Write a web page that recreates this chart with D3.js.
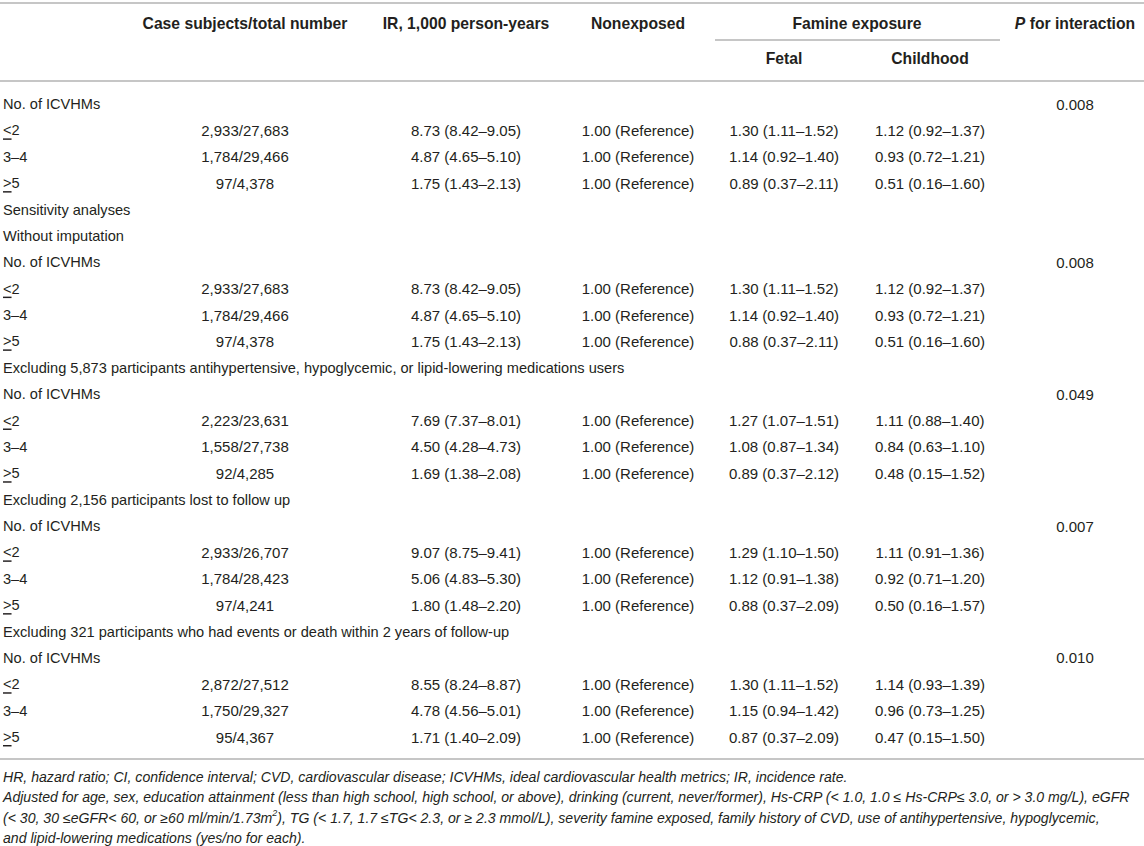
<!DOCTYPE html>
<html>
<head>
<meta charset="utf-8">
<script src="https://cdn.jsdelivr.net/npm/d3@7"></script>
<style>
  body { margin: 0; background: #fff; }
  svg text { font-family: "Liberation Sans", Arial, Helvetica, sans-serif; fill: #231f20; }
</style>
</head>
<body>
<svg id="table" width="1144" height="846"></svg>
<script>
// table data, row by row
const rowLabels = [
  "No. of ICVHMs", "≤2", "3–4", "≥5",
  "Sensitivity analyses", "Without imputation",
  "No. of ICVHMs", "≤2", "3–4", "≥5",
  "Excluding 5,873 participants antihypertensive, hypoglycemic, or lipid-lowering medications users",
  "No. of ICVHMs", "≤2", "3–4", "≥5",
  "Excluding 2,156 participants lost to follow up",
  "No. of ICVHMs", "≤2", "3–4", "≥5",
  "Excluding 321 participants who had events or death within 2 years of follow-up",
  "No. of ICVHMs", "≤2", "3–4", "≥5"
];
const caseTotals = [
  "", "2,933/27,683", "1,784/29,466", "97/4,378",
  "", "",
  "", "2,933/27,683", "1,784/29,466", "97/4,378",
  "",
  "", "2,223/23,631", "1,558/27,738", "92/4,285",
  "",
  "", "2,933/26,707", "1,784/28,423", "97/4,241",
  "",
  "", "2,872/27,512", "1,750/29,327", "95/4,367"
];
const irRates = [
  "", "8.73 (8.42–9.05)", "4.87 (4.65–5.10)", "1.75 (1.43–2.13)",
  "", "",
  "", "8.73 (8.42–9.05)", "4.87 (4.65–5.10)", "1.75 (1.43–2.13)",
  "",
  "", "7.69 (7.37–8.01)", "4.50 (4.28–4.73)", "1.69 (1.38–2.08)",
  "",
  "", "9.07 (8.75–9.41)", "5.06 (4.83–5.30)", "1.80 (1.48–2.20)",
  "",
  "", "8.55 (8.24–8.87)", "4.78 (4.56–5.01)", "1.71 (1.40–2.09)"
];
const nonexposed = rowLabels.map((d, i) => caseTotals[i] ? "1.00 (Reference)" : "");
const fetalHR = [
  "", "1.30 (1.11–1.52)", "1.14 (0.92–1.40)", "0.89 (0.37–2.11)",
  "", "",
  "", "1.30 (1.11–1.52)", "1.14 (0.92–1.40)", "0.88 (0.37–2.11)",
  "",
  "", "1.27 (1.07–1.51)", "1.08 (0.87–1.34)", "0.89 (0.37–2.12)",
  "",
  "", "1.29 (1.10–1.50)", "1.12 (0.91–1.38)", "0.88 (0.37–2.09)",
  "",
  "", "1.30 (1.11–1.52)", "1.15 (0.94–1.42)", "0.87 (0.37–2.09)"
];
const childhoodHR = [
  "", "1.12 (0.92–1.37)", "0.93 (0.72–1.21)", "0.51 (0.16–1.60)",
  "", "",
  "", "1.12 (0.92–1.37)", "0.93 (0.72–1.21)", "0.51 (0.16–1.60)",
  "",
  "", "1.11 (0.88–1.40)", "0.84 (0.63–1.10)", "0.48 (0.15–1.52)",
  "",
  "", "1.11 (0.91–1.36)", "0.92 (0.71–1.20)", "0.50 (0.16–1.57)",
  "",
  "", "1.14 (0.93–1.39)", "0.96 (0.73–1.25)", "0.47 (0.15–1.50)"
];
const pInteraction = [
  "0.008", "", "", "", "", "",
  "0.008", "", "", "", "",
  "0.049", "", "", "", "",
  "0.007", "", "", "", "",
  "0.010", "", "", ""
];

const columns = ["case", "ir", "nonexposed", "fetal", "childhood", "p"];
const columnTitles = ["Case subjects/total number", "IR, 1,000 person-years", "Nonexposed", "Fetal", "Childhood", "for interaction"];
const footnotes = [
  "HR, hazard ratio; CI, confidence interval; CVD, cardiovascular disease; ICVHMs, ideal cardiovascular health metrics; IR, incidence rate.",
  "Adjusted for age, sex, education attainment (less than high school, high school, or above), drinking (current, never/former), Hs-CRP (< 1.0, 1.0 ≤ Hs-CRP≤ 3.0, or > 3.0 mg/L), eGFR",
  "(< 30, 30 ≤eGFR< 60, or ≥60 ml/min/1.73m|2|), TG (< 1.7, 1.7 ≤TG< 2.3, or ≥ 2.3 mmol/L), severity famine exposed, family history of CVD, use of antihypertensive, hypoglycemic,",
  "and lipid-lowering medications (yes/no for each)."
];

const W = 1144;
const svg = d3.select("#table");

// scales
const x = d3.scaleOrdinal().domain(columns).range([245, 466, 638, 784, 930, 1075]);
const y = d3.scalePoint().domain(d3.range(rowLabels.length)).range([104, 737]);
const noteY = d3.scalePoint().domain(d3.range(footnotes.length)).range([777, 838]);

const rule = (x1, x2, yy) => svg.append("line")
  .attr("x1", x1).attr("x2", x2).attr("y1", yy).attr("y2", yy)
  .attr("stroke", "#b3b3b3").attr("stroke-width", 1.6);

rule(0, W, 3);
rule(0, W, 81);
rule(715, 1000, 40);
rule(0, W, 759);

// header
const head = svg.append("g").attr("font-weight", "bold").attr("font-size", 15.7)
  .attr("text-anchor", "middle").attr("dominant-baseline", "central");

head.selectAll("text.top")
  .data(["case", "ir", "nonexposed"])
  .join("text")
  .attr("class", "top")
  .attr("x", d => x(d))
  .attr("y", 23)
  .text(d => columnTitles[columns.indexOf(d)]);

head.append("text").attr("x", (x("fetal") + x("childhood")) / 2).attr("y", 23).text("Famine exposure");

head.selectAll("text.sub")
  .data(["fetal", "childhood"])
  .join("text")
  .attr("class", "sub")
  .attr("x", d => x(d))
  .attr("y", 58)
  .text(d => columnTitles[columns.indexOf(d)]);

const pHead = head.append("text").attr("x", x("p")).attr("y", 23);
pHead.append("tspan").attr("font-style", "italic").text("P");
pHead.append("tspan").text(" " + columnTitles[5]);

// body
const body = svg.append("g").attr("font-size", 15).attr("dominant-baseline", "central");

const labels = body.selectAll("text.label")
  .data(rowLabels)
  .join("text")
  .attr("class", "label")
  .attr("x", 3)
  .attr("y", (d, i) => y(i))
  .attr("font-size", 14.6);

labels.each(function(d) {
  const t = d3.select(this);
  if (d[0] === "≤" || d[0] === "≥") {
    t.append("tspan").attr("text-decoration", "underline").text(d[0] === "≤" ? "<" : ">");
    t.append("tspan").text(d.slice(1));
  } else {
    t.text(d);
  }
});

const cellData = [caseTotals, irRates, nonexposed, fetalHR, childhoodHR, pInteraction];
columns.forEach((col, c) => {
  body.selectAll("text.c-" + col)
    .data(cellData[c])
    .join("text")
    .attr("class", "c-" + col)
    .attr("text-anchor", "middle")
    .attr("x", x(col))
    .attr("y", (d, i) => y(i))
    .text(d => d);
});

// footnotes
const notes = svg.append("g").attr("font-size", 14.1).attr("font-style", "italic")
  .attr("dominant-baseline", "central");

notes.selectAll("text")
  .data(footnotes)
  .join("text")
  .attr("x", 3)
  .attr("y", (d, i) => noteY(i))
  .each(function(d) {
    const parts = d.split("|");
    const t = d3.select(this);
    parts.forEach((p, k) => {
      if (k % 2 === 1) {
        t.append("tspan").attr("font-size", 9).attr("dy", -5).text(p);
      } else if (k > 0) {
        t.append("tspan").attr("dy", 5).text(p);
      } else {
        t.append("tspan").text(p);
      }
    });
  });
</script>
</body>
</html>
